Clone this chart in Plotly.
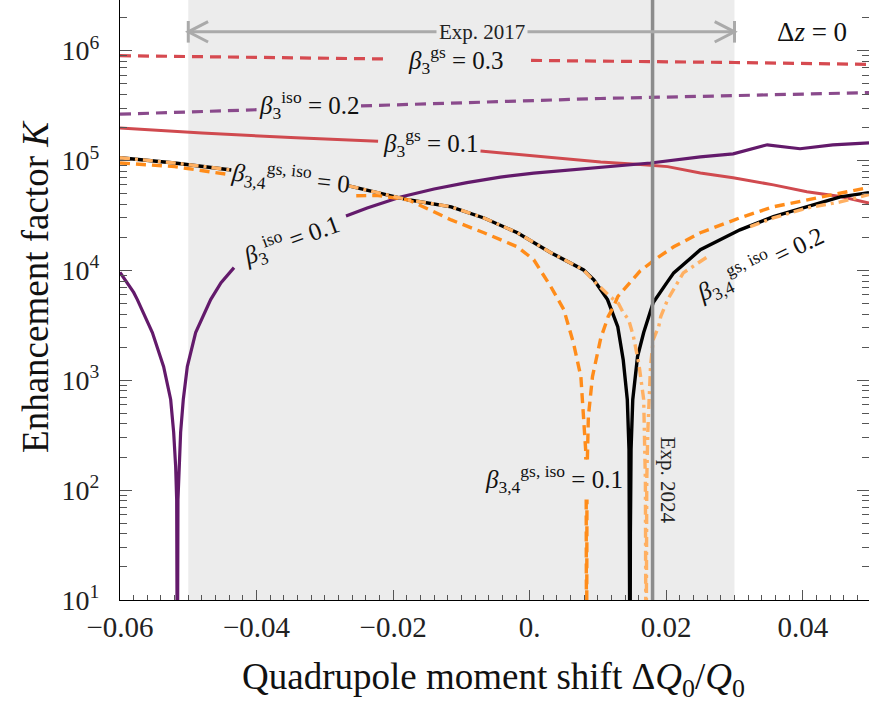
import math
import plotly.graph_objects as go

FONT = "Liberation Serif"

# ---------------- data (x = ΔQ0/Q0, K = enhancement factor; None = gap under a label)
x_b3gs_03 = [-0.06, -0.035, -0.021, None, 0.0002, 0.0104, 0.030, 0.0497]
K_b3gs_03 = [9.0e5, 8.6e5, 8.4e5, None, 8.15e5, 8.05e5, 7.8e5, 7.5e5]

x_b3iso_02 = [-0.06, -0.0408, -0.0400, None, -0.0247, 0.0104, 0.0301, 0.0497]
K_b3iso_02 = [2.64e5, 2.88e5, 2.9e5, None, 3.14e5, 3.67e5, 3.9e5, 4.15e5]

x_b3gs_01 = [-0.06, -0.048, -0.0342, -0.0222, None, -0.0072, 0.0104, 0.0162, 0.0202,
             0.025, 0.0298, 0.0357, 0.0406, 0.0455, 0.0497]
K_b3gs_01 = [1.98e5, 1.78e5, 1.61e5, 1.5e5, None, 1.22e5, 9.7e4, 9.2e4, 8.8e4,
             7.7e4, 6.97e4, 6.0e4, 5.2e4, 4.7e4, 4.1e4]

x_b3iso_01 = [-0.0600, -0.0580, -0.05746, -0.05526, -0.05361, -0.05258, -0.05214,
              -0.05185, -0.05170, -0.05160, -0.05151, -0.05137, -0.05112, -0.05073,
              -0.05014, -0.04892, -0.04672, -0.0452, -0.0433, None,
              -0.0269, -0.0238, -0.0189, -0.0140, -0.0092, -0.0043, 0.0006, 0.0055,
              0.0103, 0.0177, 0.025, 0.0298, 0.0348, 0.0396, 0.0444, 0.0497]
K_b3iso_01 = [9.6e3, 6.3e3, 5.42e3, 2.72e3, 1.33e3, 668, 335,
              164, 82, 1, 82, 164, 335, 668,
              1.33e3, 2.72e3, 5.42e3, 7.73e3, 1.06e4, None,
              3.12e4, 3.69e4, 4.65e4, 5.5e4, 6.3e4, 7.06e4, 7.68e4, 8.2e4,
              8.7e4, 9.5e4, 1.08e5, 1.15e5, 1.39e5, 1.28e5, 1.39e5, 1.45e5]

x_b34_0 = [-0.06, -0.052, -0.0437, None, -0.0265, -0.0178, -0.0115, -0.0067, -0.0018,
           0.0031, 0.0079, 0.0094, 0.0114, 0.0129, 0.0137, 0.0143, 0.01455, 0.01465,
           0.0147, 0.01475, 0.01485, 0.0151, 0.0158, 0.0167, 0.0181, 0.0202, 0.0211,
           0.025, 0.0308, 0.0357, 0.0406, 0.0455, 0.0497]
K_b34_0 = [1.06e5, 9.5e4, 8.2e4, None, 5.87e4, 4.39e4, 3.79e4, 3.0e4, 2.2e4,
           1.45e4, 1.01e4, 8.2e3, 5.42e3, 3.08e3, 1.54e3, 668, 234, 40,
           1, 40, 234, 668, 1.64e3, 2.72e3, 5.1e3, 7.9e3, 9.5e3,
           1.54e4, 2.34e4, 3.08e4, 3.79e4, 4.67e4, 5.1e4]

x_b34_01 = [-0.06, -0.052, -0.0437, None, -0.0254, -0.0222, -0.0178, -0.0115, -0.0067,
            -0.0018, 0.0006, 0.0031, 0.0050, 0.0064, 0.0075, 0.0079, 0.0082, 0.00822,
            None, 0.00828, 0.00833, 0.00839, None, 0.00845, 0.0085, 0.0086, 0.0092,
            0.0104, 0.0115, 0.0123, 0.0129, 0.0162, 0.0187, 0.0211, 0.025, 0.0308,
            0.0357, 0.0406, 0.0455, 0.0497]
K_b34_01 = [9.5e4, 8.8e4, 7.4e4, None, 4.78e4, 4.8e4, 4.39e4, 2.88e4, 2.2e4,
            1.64e4, 1.25e4, 7.1e3, 4.4e3, 2.2e3, 1.08e3, 508, 234, 190,
            None, 82, 1, 82, None, 190, 234, 468, 1.08e3,
            2.4e3, 3.8e3, 4.68e3, 5.77e3, 9.9e3, 1.3e4, 1.64e4, 2.2e4, 3.01e4,
            3.79e4, 4.39e4, 5.08e4, 5.7e4]

x_b34_02 = [-0.06, -0.052, -0.0437, None, -0.0265, -0.0178, -0.0115, -0.0067, -0.0018,
            0.0031, 0.0079, 0.0094, 0.0118, 0.0130, 0.0137, 0.0145, 0.0152, 0.0160,
            0.0167, 0.01695, 0.01705, 0.01715, 0.0173, 0.0177, 0.0181, 0.0189, 0.0192,
            0.0202, 0.0225, 0.025, 0.0262, None, 0.0323, 0.0357, 0.0406, 0.0455, 0.0497]
K_b34_02 = [1.06e5, 9.5e4, 8.2e4, None, 5.87e4, 4.39e4, 3.79e4, 3.0e4, 2.2e4,
            1.45e4, 1.01e4, 8.0e3, 5.77e3, 5.0e3, 4.12e3, 3.56e3, 2.5e3, 1.4e3,
            668, 120, 1, 120, 335, 1.33e3, 2.35e3, 3.08e3, 3.8e3,
            5.4e3, 9.5e3, 1.2e4, 1.35e4, None, 2.5e4, 3.0e4, 3.7e4, 4.2e4, 4.9e4]

EXP2017 = [-0.05, 0.03]
EXP2024 = 0.018

x_ticks = [-0.06, -0.04, -0.02, 0.0, 0.02, 0.04]
x_ticktext = ["\u22120.06", "\u22120.04", "\u22120.02", "0.", "0.02", "0.04"]
y_ticks = [1e1, 1e2, 1e3, 1e4, 1e5, 1e6]
y_ticktext = ["10<sup>%d</sup>" % e for e in range(1, 7)]

# ---------------- figure
fig = go.Figure()

def add(x, y, color, width, dash="solid"):
    fig.add_trace(go.Scatter(x=x, y=y, mode="lines", connectgaps=False,
                             line=dict(color=color, width=width, dash=dash),
                             hoverinfo="skip", showlegend=False))

add(x_b3gs_03, K_b3gs_03, "#d64a50", 3.2, "11px,7px")
add(x_b3iso_02, K_b3iso_02, "#8a4a8c", 3.2, "11px,7px")
add(x_b3gs_01, K_b3gs_01, "#d04a4f", 3.0)
add(x_b3iso_01, K_b3iso_01, "#631a6b", 3.2)
add(x_b34_0, K_b34_0, "#000000", 3.4)
add(x_b34_01, K_b34_01, "#ff8c1a", 3.4, "10px,6px")
add(x_b34_02, K_b34_02, "#ffb062", 3.4, "10px,5px,3px,5px")

shapes = []
shapes.append(dict(type="rect", xref="x", yref="paper", x0=EXP2017[0], x1=EXP2017[1],
                   y0=0, y1=1, fillcolor="#ececec", line=dict(width=0), layer="below"))
shapes.append(dict(type="line", xref="x", yref="paper", x0=EXP2024, x1=EXP2024,
                   y0=0, y1=1, line=dict(color="#8c8c8c", width=3.5), layer="above"))
AY = 0.947
ACOL = "#aaaaaa"
dx, dy, bar = 0.0029, 0.017, 0.018
shapes.append(dict(type="line", xref="x", yref="paper", x0=EXP2017[0], x1=EXP2017[1],
                   y0=AY, y1=AY, line=dict(color=ACOL, width=3)))
for xe, s in [(EXP2017[0], 1), (EXP2017[1], -1)]:
    shapes.append(dict(type="line", xref="x", yref="paper", x0=xe, x1=xe,
                       y0=AY - bar, y1=AY + bar, line=dict(color=ACOL, width=3)))
    shapes.append(dict(type="path", xref="x", yref="paper",
                       path=f"M {xe + s*dx} {AY + dy} L {xe} {AY} L {xe + s*dx} {AY - dy}",
                       line=dict(color=ACOL, width=3)))

LF = dict(family=FONT, size=25, color="#111111")

def lab(text, x, K, angle=0):
    return dict(text=text, x=x, y=math.log10(K), xref="x", yref="y", showarrow=False,
                textangle=angle, font=LF, xanchor="center", yanchor="middle")

annotations = [
    lab("<i>β</i><sub>3</sub><sup>gs</sup> = 0.3", -0.0108, 8.3e5),
    lab("<i>β</i><sub>3</sub><sup>iso</sup> = 0.2", -0.0323, 3.2e5),
    lab("<i>β</i><sub>3</sub><sup>gs</sup> = 0.1", -0.0145, 1.45e5),
    lab("<i>β</i><sub>3,4</sub><sup>gs, iso</sup> = 0", -0.0351, 7.0e4, 6),
    lab("<i>β</i><sub>3</sub><sup>iso</sup> = 0.1", -0.0349, 1.9e4, -20),
    lab("<i>β</i><sub>3,4</sub><sup>gs, iso</sup> = 0.1", 0.0035, 125),
    lab("<i>β</i><sub>3,4</sub><sup>gs, iso</sup> = 0.2", 0.0338, 1.15e4, -26),
    dict(text="Exp. 2017", x=-0.0070, y=AY, xref="x", yref="paper", showarrow=False,
         font=dict(family=FONT, size=21, color="#222222"), bgcolor="#ececec",
         xanchor="center", yanchor="middle", borderpad=2),
    dict(text="Exp. 2024", x=0.0203, y=0.2, xref="x", yref="paper", showarrow=False,
         textangle=90, font=dict(family=FONT, size=21, color="#222222"),
         xanchor="center", yanchor="middle"),
    dict(text="Δ<i>z</i> = 0", x=0.0414, y=AY, xref="x", yref="paper", showarrow=False,
         font=dict(family=FONT, size=27, color="#111111"), xanchor="center", yanchor="middle"),
    dict(text="Quadrupole moment shift Δ<i>Q</i><sub>0</sub>/<i>Q</i><sub>0</sub>",
         x=0.498, y=-0.133, xref="paper", yref="paper", showarrow=False,
         font=dict(family=FONT, size=37, color="#111111"), xanchor="center", yanchor="middle"),
    dict(text="Enhancement factor <i>K</i>", x=-0.112, y=0.522, xref="paper", yref="paper",
         showarrow=False, textangle=-90,
         font=dict(family=FONT, size=37, color="#111111"), xanchor="center", yanchor="middle"),
]

y_minor = [m * 10 ** e for e in range(1, 7) for m in range(2, 10)]

fig.update_layout(
    width=869, height=709,
    margin=dict(l=120, r=0, t=0, b=109),
    paper_bgcolor="white", plot_bgcolor="white",
    shapes=shapes, annotations=annotations,
    xaxis=dict(range=[-0.06, 0.0497], showgrid=False, zeroline=False,
               showline=True, linecolor="black", linewidth=1.3,
               tickmode="array", tickvals=x_ticks, ticktext=x_ticktext,
               ticks="inside", ticklen=10, tickcolor="#555555", tickwidth=1.2,
               tickfont=dict(family=FONT, size=29, color="#222222"),
               ticklabelstandoff=1,
               minor=dict(tickmode="linear", tick0=0, dtick=0.002, ticks="inside",
                          ticklen=5, tickcolor="#555555", tickwidth=1)),
    yaxis=dict(type="log", range=[1, 6.461], showgrid=False, zeroline=False,
               showline=True, linecolor="black", linewidth=1.3, mirror="ticks",
               tickmode="array", tickvals=y_ticks, ticktext=y_ticktext,
               ticks="inside", ticklen=12, tickcolor="#555555", tickwidth=1.2,
               tickfont=dict(family=FONT, size=28, color="#222222"),
               ticklabelstandoff=14,
               minor=dict(tickmode="array", tickvals=y_minor, ticks="inside",
                          ticklen=7, tickcolor="#555555", tickwidth=1)),
)

fig.write_html("out.html", config={"displayModeBar": False},
               post_script="document.body.style.margin='0';document.body.style.overflow='hidden';")
